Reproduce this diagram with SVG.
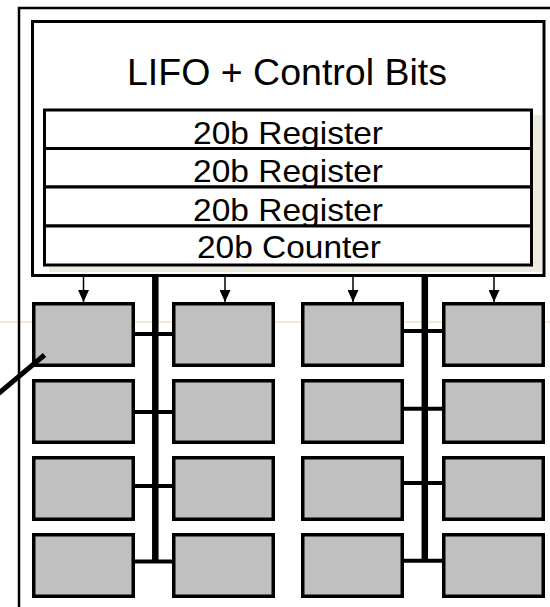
<svg xmlns="http://www.w3.org/2000/svg" width="550" height="607" viewBox="0 0 550 607">
<defs>
<style>
.frame{fill:none;stroke:#000;stroke-width:2.5}
.lifo{fill:#fff;stroke:#000;stroke-width:3}
.reg{fill:#fff;stroke:#000;stroke-width:3}
.pe{fill:#c0c0c0;stroke:#000;stroke-width:3.5}
.bus{stroke:#000;stroke-width:6.5;fill:none}
.link{stroke:#000;stroke-width:4;fill:none}
.arr{stroke:#000;stroke-width:1.5;fill:none}
.t{font-family:"Liberation Sans",Arial,sans-serif;fill:#000;text-anchor:middle}
</style>
<marker id="ah" viewBox="0 0 12 11" refX="12" refY="5.5" markerWidth="12" markerHeight="11" markerUnits="userSpaceOnUse" orient="auto">
<path d="M0,0 L12,5.5 L0,11 Z" fill="#000"/>
</marker>
</defs>
<rect width="550" height="607" fill="#fff"/>
<line x1="0" y1="322" x2="550" y2="322" stroke="#f3d49a" stroke-width="1"/>
<path class="frame" d="M19,607 V8 H551"/>
<g id="lifo">
<rect class="lifo" x="32.5" y="21.5" width="511.5" height="254"/>
<text class="t" x="287" y="85" font-size="36.5" textLength="320" lengthAdjust="spacingAndGlyphs">LIFO + Control Bits</text>
<rect x="49" y="115" width="493" height="157" fill="#eeece1"/>
<g id="reg1"><rect class="reg" x="44.5" y="110" width="487" height="38.5"/><text class="t" x="288" y="143.5" font-size="32" textLength="190" lengthAdjust="spacingAndGlyphs">20b Register</text></g>
<g id="reg2"><rect class="reg" x="44.5" y="148.5" width="487" height="38.5"/><text class="t" x="288" y="181.5" font-size="32" textLength="190" lengthAdjust="spacingAndGlyphs">20b Register</text></g>
<g id="reg3"><rect class="reg" x="44.5" y="187" width="487" height="39"/><text class="t" x="288" y="220.5" font-size="32" textLength="190" lengthAdjust="spacingAndGlyphs">20b Register</text></g>
<g id="cnt"><rect class="reg" x="44.5" y="226" width="487" height="39"/><text class="t" x="289" y="258" font-size="32" textLength="184" lengthAdjust="spacingAndGlyphs">20b Counter</text></g>
</g>
<g id="connectors">
<line class="bus" x1="155.3" y1="277" x2="155.3" y2="560"/>
<line class="bus" x1="424.8" y1="277" x2="424.8" y2="560"/>
<line class="link" x1="135" y1="334" x2="172" y2="334"/>
<line class="link" x1="135" y1="412" x2="172" y2="412"/>
<line class="link" x1="135" y1="486" x2="172" y2="486"/>
<line class="link" x1="135" y1="561.5" x2="172" y2="561.5"/>
<line class="link" x1="404" y1="331" x2="442" y2="331"/>
<line class="link" x1="404" y1="408.7" x2="442" y2="408.7"/>
<line class="link" x1="404" y1="483" x2="442" y2="483"/>
<line class="link" x1="404" y1="560.7" x2="442" y2="560.7"/>
<line class="arr" x1="83.5" y1="277" x2="83.5" y2="302" marker-end="url(#ah)"/>
<line class="arr" x1="225" y1="277" x2="225" y2="302" marker-end="url(#ah)"/>
<line class="arr" x1="353" y1="277" x2="353" y2="302" marker-end="url(#ah)"/>
<line class="arr" x1="494" y1="277" x2="494" y2="302" marker-end="url(#ah)"/>
</g>
<g id="pe-c1r1"><rect class="pe" x="33.75" y="303.75" width="99.5" height="61.5"/></g>
<g id="pe-c2r1"><rect class="pe" x="173.75" y="303.75" width="99.5" height="61.5"/></g>
<g id="pe-c3r1"><rect class="pe" x="302.75" y="303.75" width="99.5" height="61.5"/></g>
<g id="pe-c4r1"><rect class="pe" x="443.75" y="303.75" width="99.5" height="61.5"/></g>
<g id="pe-c1r2"><rect class="pe" x="33.75" y="380.75" width="99.5" height="61.5"/></g>
<g id="pe-c2r2"><rect class="pe" x="173.75" y="380.75" width="99.5" height="61.5"/></g>
<g id="pe-c3r2"><rect class="pe" x="302.75" y="380.75" width="99.5" height="61.5"/></g>
<g id="pe-c4r2"><rect class="pe" x="443.75" y="380.75" width="99.5" height="61.5"/></g>
<g id="pe-c1r3"><rect class="pe" x="33.75" y="457.75" width="99.5" height="61.5"/></g>
<g id="pe-c2r3"><rect class="pe" x="173.75" y="457.75" width="99.5" height="61.5"/></g>
<g id="pe-c3r3"><rect class="pe" x="302.75" y="457.75" width="99.5" height="61.5"/></g>
<g id="pe-c4r3"><rect class="pe" x="443.75" y="457.75" width="99.5" height="61.5"/></g>
<g id="pe-c1r4"><rect class="pe" x="33.75" y="534.75" width="99.5" height="61.5"/></g>
<g id="pe-c2r4"><rect class="pe" x="173.75" y="534.75" width="99.5" height="61.5"/></g>
<g id="pe-c3r4"><rect class="pe" x="302.75" y="534.75" width="99.5" height="61.5"/></g>
<g id="pe-c4r4"><rect class="pe" x="443.75" y="534.75" width="99.5" height="61.5"/></g>
<line x1="-2" y1="394" x2="44.5" y2="355" stroke="#000" stroke-width="5"/>
</svg>
